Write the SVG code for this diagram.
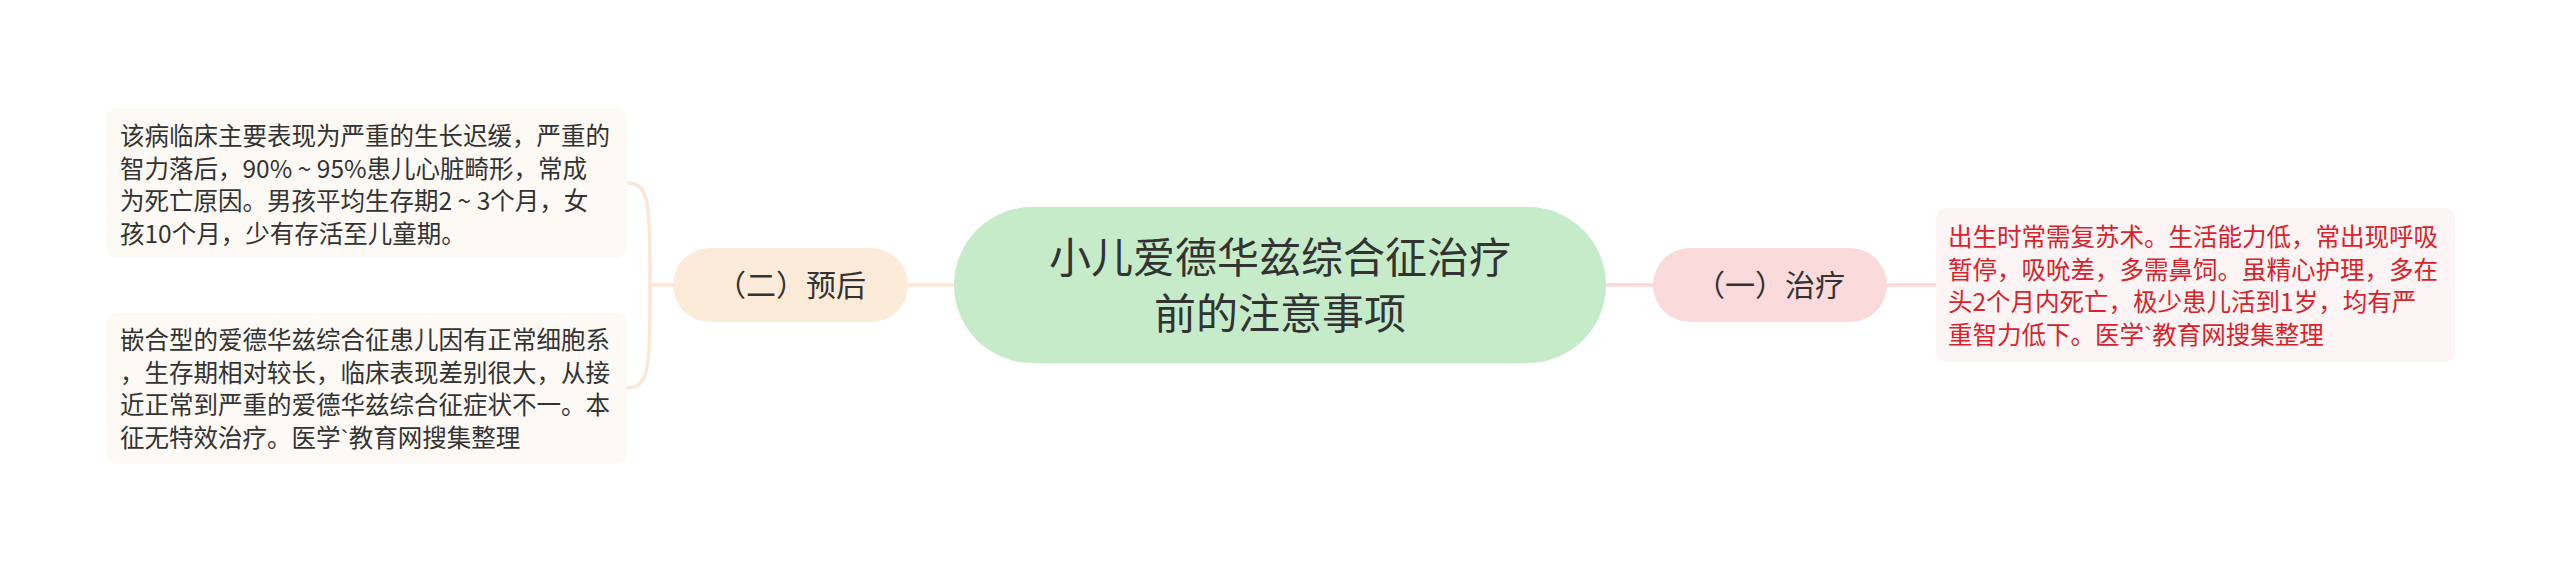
<svg xmlns="http://www.w3.org/2000/svg" width="2560" height="571" viewBox="0 0 2560 571">
<style>
text{font-family:"Noto Sans CJK SC","Noto Sans",sans-serif;}
.small{font-size:24.5px;fill:#333;}
.red{font-size:24.5px;fill:#d8232a;}
.mid{font-size:30px;fill:#333;text-anchor:middle;}
.big{font-size:42px;fill:#333;text-anchor:middle;}
.lc{fill:none;stroke:#fce7d6;stroke-width:3.5;}
.rc{fill:none;stroke:#f8d8d9;stroke-width:3.5;}
.bt{font-family:"Liberation Sans",sans-serif;}
</style>
<rect width="2560" height="571" fill="#ffffff"/>
<g id="connectors">
<path class="lc" d="M954,285 H908"/>
<path class="lc" d="M673,285 H650"/>
<path class="lc" d="M650,285 C650,205 650,183 627,183"/>
<path class="lc" d="M650,285 C650,365 650,388 627,388"/>
<path class="rc" d="M1606,285 H1653"/>
<path class="rc" d="M1887,285 H1936"/>
</g>
<g id="central">
<rect x="954" y="207" width="652" height="156" rx="78" fill="#c6ebc9"/>
<text class="big" x="1280" y="273">小儿爱德华兹综合征治疗</text>
<text class="big" x="1280" y="329">前的注意事项</text>
</g>
<g id="node-yuhou">
<rect x="673" y="248" width="235" height="74" rx="37" fill="#fdebd9"/>
<text class="mid" x="791" y="296">（二）预后</text>
</g>
<g id="node-zhiliao">
<rect x="1653" y="248" width="234" height="74" rx="37" fill="#fadadb"/>
<text class="mid" x="1770" y="296">（一）治疗</text>
</g>
<g id="box-yuhou-1">
<rect x="107" y="108" width="520" height="150" rx="10" fill="#fdf9f4"/>
<text class="small" x="120" y="145">该病临床主要表现为严重的生长迟缓，严重的</text>
<text class="small" x="120" y="177.5">智力落后，90% ~ 95%患儿心脏畸形，常成</text>
<text class="small" x="120" y="210">为死亡原因。男孩平均生存期2 ~ 3个月，女</text>
<text class="small" x="120" y="242.5">孩10个月，少有存活至儿童期。</text>
</g>
<g id="box-yuhou-2">
<rect x="107" y="313" width="520" height="151" rx="10" fill="#fdf9f4"/>
<text class="small" x="120" y="349">嵌合型的爱德华兹综合征患儿因有正常细胞系</text>
<text class="small" x="120" y="381.5">，生存期相对较长，临床表现差别很大，从接</text>
<text class="small" x="120" y="414">近正常到严重的爱德华兹综合征症状不一。本</text>
<text class="small" x="120" y="446.5">征无特效治疗。医学<tspan class="bt">`</tspan>教育网搜集整理</text>
</g>
<g id="box-zhiliao">
<rect x="1936" y="208" width="519" height="154" rx="10" fill="#fdf5f5"/>
<text class="red" x="1948" y="246">出生时常需复苏术。生活能力低，常出现呼吸</text>
<text class="red" x="1948" y="278.5">暂停，吸吮差，多需鼻饲。虽精心护理，多在</text>
<text class="red" x="1948" y="311">头2个月内死亡，极少患儿活到1岁，均有严</text>
<text class="red" x="1948" y="343.5">重智力低下。医学<tspan class="bt">`</tspan>教育网搜集整理</text>
</g>
</svg>
